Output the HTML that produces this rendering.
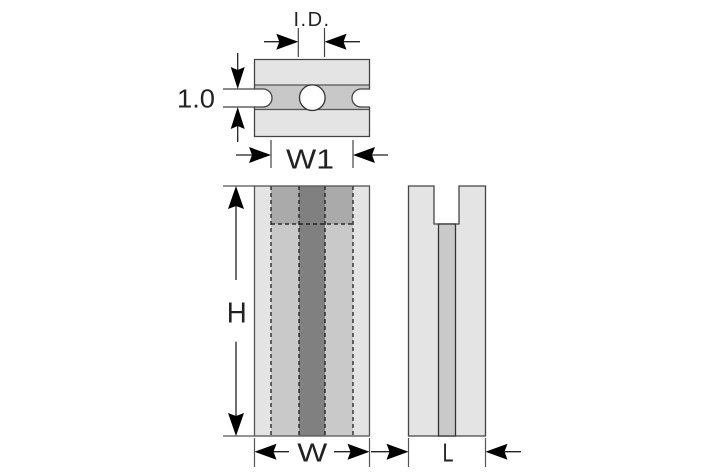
<!DOCTYPE html>
<html><head><meta charset="utf-8"><style>
html,body{margin:0;padding:0;background:#fff;}
svg{display:block;}
text{font-family:"Liberation Sans",sans-serif;fill:#222;}
</style></head><body>
<svg width="709" height="472" viewBox="0 0 709 472" xmlns="http://www.w3.org/2000/svg">
<!-- TOP VIEW -->
<path d="M254.5,59.5 H369.5 V89 H361 A9,9 0 0 0 361,107 H369.5 V136.5 H254.5 V107 H263 A9,9 0 0 0 263,89 H254.5 Z" fill="#e4e4e4"/>
<rect x="254.5" y="85" width="115" height="24.5" fill="#c8c8c8"/>
<line x1="254.5" y1="85" x2="369.5" y2="85" stroke="#555" stroke-width="1.3"/>
<line x1="254.5" y1="109.5" x2="369.5" y2="109.5" stroke="#555" stroke-width="1.3"/>
<path d="M250,89 H263 A9,9 0 0 1 263,107 H250 Z" fill="#fff"/>
<path d="M375,89 H361 A9,9 0 0 0 361,107 H375 Z" fill="#fff"/>
<circle cx="312.3" cy="97.7" r="12.8" fill="#fff" stroke="#333" stroke-width="1.3"/>
<path d="M254.5,59.5 H369.5 V89 H361 A9,9 0 0 0 361,107 H369.5 V136.5 H254.5 V107 H263 A9,9 0 0 0 263,89 H254.5 Z" fill="none" stroke="#444" stroke-width="1.3"/>

<!-- I.D. dim -->
<line x1="298.3" y1="28" x2="298.3" y2="57" stroke="#444" stroke-width="1.2"/>
<line x1="324.5" y1="28" x2="324.5" y2="57" stroke="#444" stroke-width="1.2"/>
<line x1="264" y1="41.7" x2="290" y2="41.7" stroke="#222" stroke-width="1.3"/>
<path d="M298.3,41.7 L276.3,33.7 L279.3,41.7 L276.3,49.7 Z" fill="#000"/>
<line x1="360" y1="41.7" x2="332" y2="41.7" stroke="#222" stroke-width="1.3"/>
<path d="M324.5,41.7 L346.5,33.7 L343.5,41.7 L346.5,49.7 Z" fill="#000"/>
<text x="293.5" y="26" font-size="20" letter-spacing="1.5">I.D.</text>

<!-- 1.0 dim -->
<line x1="223" y1="89" x2="254.5" y2="89" stroke="#444" stroke-width="1.2"/>
<line x1="223" y1="107" x2="254.5" y2="107" stroke="#444" stroke-width="1.2"/>
<line x1="237.7" y1="53" x2="237.7" y2="80" stroke="#222" stroke-width="1.3"/>
<path d="M237.7,89 L230.7,67 L237.7,70 L244.7,67 Z" fill="#000"/>
<line x1="237.7" y1="142" x2="237.7" y2="116" stroke="#222" stroke-width="1.3"/>
<path d="M237.7,107 L230.7,129 L237.7,126 L244.7,129 Z" fill="#000"/>
<text x="215" y="107.7" font-size="26" text-anchor="end" textLength="38" lengthAdjust="spacingAndGlyphs">1.0</text>

<!-- W1 dim -->
<line x1="271" y1="140" x2="271" y2="168" stroke="#444" stroke-width="1.2"/>
<line x1="353" y1="140" x2="353" y2="168" stroke="#444" stroke-width="1.2"/>
<line x1="236" y1="155" x2="262" y2="155" stroke="#222" stroke-width="1.3"/>
<path d="M271,155 L249,147 L252,155 L249,163 Z" fill="#000"/>
<line x1="388" y1="155" x2="362" y2="155" stroke="#222" stroke-width="1.3"/>
<path d="M353,155 L375,147 L372,155 L375,163 Z" fill="#000"/>
<text x="310" y="168.3" font-size="28" text-anchor="middle" textLength="48" lengthAdjust="spacingAndGlyphs">W1</text>

<!-- FRONT VIEW -->
<rect x="254.5" y="186" width="115" height="250" fill="#e4e4e4"/>
<rect x="271" y="186" width="82" height="38" fill="#aaaaaa"/>
<rect x="271" y="224" width="28" height="212" fill="#c9c9c9"/>
<rect x="325" y="224" width="28" height="212" fill="#c9c9c9"/>
<rect x="299" y="186" width="26" height="250" fill="#808080"/>
<g stroke="#111" stroke-width="1.2" stroke-dasharray="4,3" fill="none">
<line x1="271" y1="186" x2="271" y2="436"/>
<line x1="299" y1="186" x2="299" y2="436"/>
<line x1="325" y1="186" x2="325" y2="436"/>
<line x1="353" y1="186" x2="353" y2="436"/>
<line x1="271" y1="224" x2="353" y2="224"/>
</g>
<rect x="254.5" y="186" width="115" height="250" fill="none" stroke="#555" stroke-width="1.3"/>

<!-- H dim -->
<line x1="223" y1="186" x2="254.5" y2="186" stroke="#555" stroke-width="1.2"/>
<line x1="223" y1="436" x2="254.5" y2="436" stroke="#555" stroke-width="1.2"/>
<line x1="236" y1="195" x2="236" y2="280" stroke="#222" stroke-width="1.3"/>
<line x1="236" y1="341.7" x2="236" y2="427" stroke="#222" stroke-width="1.3"/>
<path d="M236,186 L228,209 L236,206 L244,209 Z" fill="#000"/>
<path d="M236,436 L228,413 L236,416 L244,413 Z" fill="#000"/>
<text x="236.7" y="322.3" font-size="29" text-anchor="middle" textLength="20" lengthAdjust="spacingAndGlyphs">H</text>

<!-- SIDE VIEW -->
<path d="M408.5,186 H434 V224 H459 V186 H485.5 V436 H408.5 Z" fill="#e4e4e4" stroke="#444" stroke-width="1.3"/>
<rect x="438.5" y="224" width="17" height="212" fill="#c9c9c9" stroke="#333" stroke-width="1.3"/>

<!-- W and L dims -->
<line x1="254.5" y1="438" x2="254.5" y2="467" stroke="#555" stroke-width="1.2"/>
<line x1="369.5" y1="438" x2="369.5" y2="467" stroke="#555" stroke-width="1.2"/>
<line x1="408.5" y1="438" x2="408.5" y2="467" stroke="#555" stroke-width="1.2"/>
<line x1="485.5" y1="438" x2="485.5" y2="467" stroke="#555" stroke-width="1.2"/>
<line x1="289" y1="451.7" x2="263" y2="451.7" stroke="#222" stroke-width="1.3"/>
<path d="M254.5,451.7 L276.5,443.7 L273.5,451.7 L276.5,459.7 Z" fill="#000"/>
<line x1="334" y1="451.7" x2="361" y2="451.7" stroke="#222" stroke-width="1.3"/>
<path d="M369.5,451.7 L347.5,443.7 L350.5,451.7 L347.5,459.7 Z" fill="#000"/>
<line x1="371" y1="451.7" x2="400" y2="451.7" stroke="#222" stroke-width="1.3"/>
<path d="M408.5,451.7 L386.5,443.7 L389.5,451.7 L386.5,459.7 Z" fill="#000"/>
<line x1="521" y1="451.7" x2="494" y2="451.7" stroke="#222" stroke-width="1.3"/>
<path d="M485.5,451.7 L507.5,443.7 L504.5,451.7 L507.5,459.7 Z" fill="#000"/>
<text x="312.3" y="461.7" font-size="26" text-anchor="middle" textLength="30" lengthAdjust="spacingAndGlyphs">W</text>
<text x="448" y="461.7" font-size="26" text-anchor="middle" textLength="11" lengthAdjust="spacingAndGlyphs">L</text>
</svg>
</body></html>
